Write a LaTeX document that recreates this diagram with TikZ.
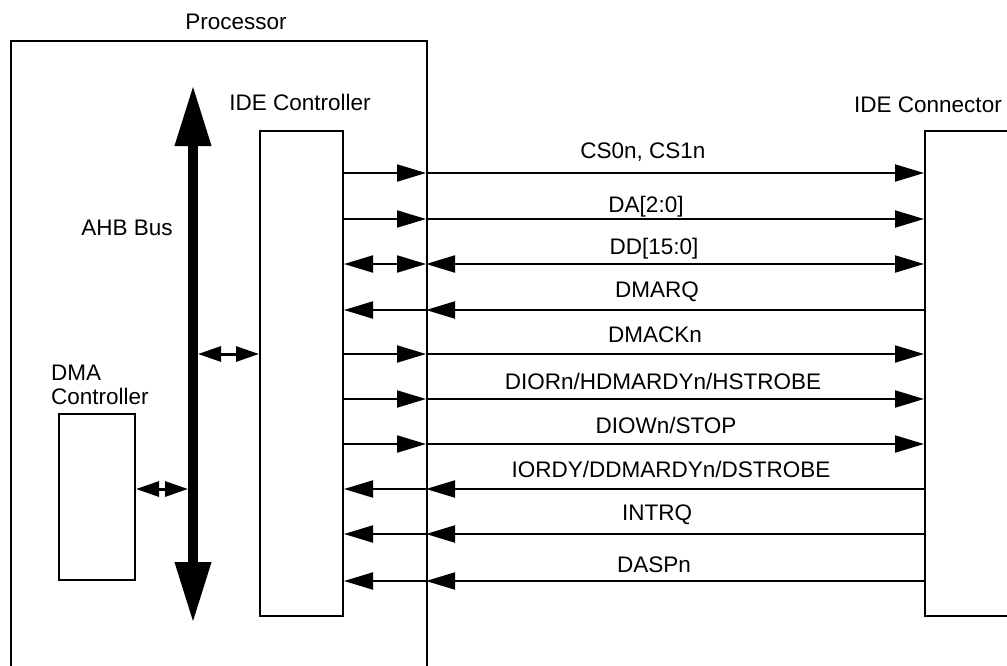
\documentclass[tikz,border=0pt]{standalone}
\usepackage{fontspec}
\setmainfont{Liberation Sans}
\usetikzlibrary{arrows.meta}
\tikzset{
  box/.style={draw, line width=2pt, fill=white, inner sep=0pt, anchor=north west},
  lbl/.style={inner sep=0pt, font=\fontsize{22.5}{24}\selectfont},
  sig/.style={line width=2pt, arrows={-Triangle[length=29pt,width=17pt]}},
  sigb/.style={line width=2pt, arrows={Triangle[length=29pt,width=17pt]-Triangle[length=29pt,width=17pt]}},
  sml/.style={line width=3pt, arrows={Triangle[length=23pt,width=15pt]-Triangle[length=23pt,width=15pt]}},
}
\begin{document}
\begin{tikzpicture}[x=1pt,y=-1pt]
\clip (0,0) rectangle (1007,665);
\fill[white] (0,0) rectangle (1007,665);
% boxes
\node[box, minimum width=416pt, minimum height=680pt] (proc) at (10,40) {};
\node[box, minimum width=83pt, minimum height=485pt] (ide) at (259,130) {};
\node[box, minimum width=120pt, minimum height=485pt] (conn) at (924,130) {};
\node[box, minimum width=76pt, minimum height=166pt] (dma) at (58,413) {};
% labels
\node[lbl] (tproc) at (236,22) {Processor};
\node[lbl] (tide) at (300,102) {IDE Controller};
\node[lbl] (tconn) at (928,105) {IDE Connector};
\node[lbl] (tahb) at (127,228) {AHB Bus};
\node[lbl, align=left, anchor=west, font=\fontsize{22.5}{24}\selectfont] (tdma) at (51,385) {DMA\\Controller};
% AHB bus
\coordinate (ahbtop) at (193,85);
\coordinate (ahbbot) at (193,623);
\draw[line width=10pt, arrows={Triangle[length=61pt,width=34pt]-Triangle[length=61pt,width=34pt]}] (ahbtop) -- (ahbbot);
\coordinate (busR) at (198,354);
\coordinate (busL) at (188,489);
\draw[sml] (busR) -- (ide.west |- busR);
\draw[sml] (dma.east |- busL) -- (busL);
% signal coordinates at processor boundary
\coordinate (p1) at (426,173);
\coordinate (p2) at (426,219);
\coordinate (p3) at (426,264);
\coordinate (p4) at (426,310);
\coordinate (p5) at (426,354);
\coordinate (p6) at (426,399);
\coordinate (p7) at (426,444);
\coordinate (p8) at (426,489);
\coordinate (p9) at (426,534);
\coordinate (p10) at (426,581);
% outputs
\foreach \p in {p1,p2,p5,p6,p7}{
  \draw[sig] (ide.east |- \p) -- (\p);
  \draw[sig] (\p) -- (conn.west |- \p);
}
% bidirectional
\draw[sigb] (ide.east |- p3) -- (p3);
\draw[sigb] (p3) -- (conn.west |- p3);
% inputs
\foreach \p in {p4,p8,p9,p10}{
  \draw[sig] (\p) -- (ide.east |- \p);
  \draw[sig] (conn.west |- \p) -- (\p);
}
% signal labels
\node[lbl] (l1) at (643,152) {CS0n, CS1n};
\node[lbl] (l2) at (646,207) {DA[2:0]};
\node[lbl] (l3) at (654,249) {DD[15:0]};
\node[lbl] (l4) at (657,292) {DMARQ};
\node[lbl] (l5) at (655,335) {DMACKn};
\node[lbl] (l6) at (663,381) {DIORn/HDMARDYn/HSTROBE};
\node[lbl] (l7) at (666,425) {DIOWn/STOP};
\node[lbl] (l8) at (671,469) {IORDY/DDMARDYn/DSTROBE};
\node[lbl] (l9) at (657,515) {INTRQ};
\node[lbl] (l10) at (654,565) {DASPn};
\end{tikzpicture}
\end{document}
